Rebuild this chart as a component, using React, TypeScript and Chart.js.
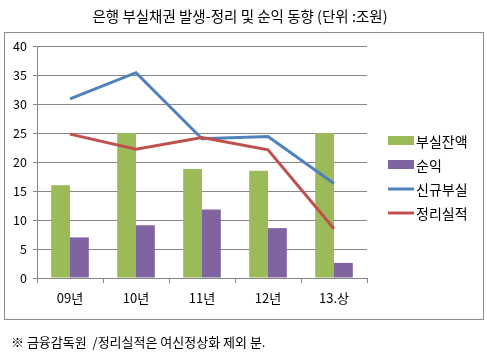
import React, { useEffect, useRef } from "react";
import { Chart, registerables } from "chart.js";

Chart.register(...registerables);

const categories = ["09년", "10년", "11년", "12년", "13.상"];
const badBalance = [16, 25, 18.8, 18.5, 25];
const netIncome = [7, 9.1, 11.8, 8.6, 2.6];
const newBad = [30.9, 35.4, 24, 24.4, 16.3];
const resolved = [24.8, 22.2, 24.2, 22.1, 8.5];
const yTicks = [0, 5, 10, 15, 20, 25, 30, 35, 40];

const titleText = "은행 부실채권 발생-정리 및 순익 동향 (단위 :조원)";
const noteText = "※ 금융감독원  /정리실적은 여신정상화 제외 분.";

const FONT = "'Noto Sans CJK KR', 'Noto Sans', sans-serif";
const GREEN = "#9BBB59";
const PURPLE = "#8064A2";
const BLUE = "#4F81BD";
const RED = "#C0504D";
const GRID = "#868686";

const decor = {
  id: "decor",
  beforeDraw(chart: any) {
    const ctx = chart.ctx;
    ctx.save();
    ctx.fillStyle = "#ffffff";
    ctx.fillRect(0, 0, chart.width, chart.height);
    ctx.strokeStyle = "#8c8c8c";
    ctx.lineWidth = 1;
    ctx.strokeRect(4.5, 32.5, 479, 287);
    ctx.fillStyle = "#000";
    ctx.font = `14.5px ${FONT}`;
    ctx.textAlign = "center";
    ctx.textBaseline = "middle";
    ctx.fillText(titleText, 240, 16);
    ctx.textAlign = "left";
    ctx.font = `13px ${FONT}`;
    ctx.fillText(noteText, 11, 342);
    ctx.restore();
  },
  afterDraw(chart: any) {
    const ctx = chart.ctx;
    ctx.save();
    const items = chart.data.datasets;
    const x0 = 388;
    const w = 26;
    const startY = 141;
    const step = 24;
    ctx.font = `14px ${FONT}`;
    ctx.textBaseline = "middle";
    ctx.textAlign = "left";
    items.forEach((ds: any, i: number) => {
      const y = startY + i * step;
      if (ds.type === "line") {
        ctx.strokeStyle = ds.borderColor;
        ctx.lineWidth = 3;
        ctx.beginPath();
        ctx.moveTo(x0, y);
        ctx.lineTo(x0 + w, y);
        ctx.stroke();
      } else {
        ctx.fillStyle = ds.backgroundColor;
        ctx.fillRect(x0, y - 5, w, 9);
      }
      ctx.fillStyle = "#000";
      ctx.fillText(ds.label, x0 + w + 2, y + 1);
    });
    ctx.restore();
  },
};

export default function App() {
  const ref = useRef<HTMLCanvasElement>(null);
  useEffect(() => {
    if (!ref.current) return;
    const chart = new Chart(ref.current, {
      type: "bar",
      data: {
        labels: categories,
        datasets: [
          {
            type: "bar",
            label: "부실잔액",
            data: badBalance,
            backgroundColor: GREEN,
            categoryPercentage: 0.57,
            barPercentage: 1,
            order: 2,
          },
          {
            type: "bar",
            label: "순익",
            data: netIncome,
            backgroundColor: PURPLE,
            categoryPercentage: 0.57,
            barPercentage: 1,
            order: 2,
          },
          {
            type: "line",
            label: "신규부실",
            data: newBad,
            borderColor: BLUE,
            backgroundColor: BLUE,
            borderWidth: 3,
            pointRadius: 0,
            tension: 0,
            order: 1,
          } as any,
          {
            type: "line",
            label: "정리실적",
            data: resolved,
            borderColor: RED,
            backgroundColor: RED,
            borderWidth: 3,
            pointRadius: 0,
            tension: 0,
            order: 0,
          } as any,
        ],
      },
      options: {
        responsive: false,
        animation: false,
        layout: { padding: { left: 8, right: 120, top: 46, bottom: 43 } },
        plugins: {
          legend: { display: false },
          title: { display: false },
          tooltip: { enabled: false },
        },
        scales: {
          x: {
            grid: {
              display: true,
              drawOnChartArea: false,
              drawTicks: true,
              tickLength: 5,
              color: GRID,
              offset: true,
            },
            border: { color: GRID },
            ticks: { color: "#000", font: { family: FONT, size: 13 }, padding: 7 },
            afterFit(scale: any) {
              scale.height = 40;
            },
          },
          y: {
            min: 0,
            max: 40,
            afterBuildTicks(scale: any) {
              scale.ticks = yTicks.map((v) => ({ value: v }));
            },
            grid: { color: GRID, tickLength: 4 },
            border: { color: GRID },
            ticks: { color: "#000", font: { family: FONT, size: 12.5 }, padding: 6 },
            afterFit(scale: any) {
              scale.width = 29;
            },
          },
        },
      },
      plugins: [decor],
    });
    return () => chart.destroy();
  }, []);
  return (
    <div style={{ position: "absolute", left: 0, top: 0, width: 487, height: 361 }}>
      <canvas ref={ref} width={487} height={361} />
    </div>
  );
}
